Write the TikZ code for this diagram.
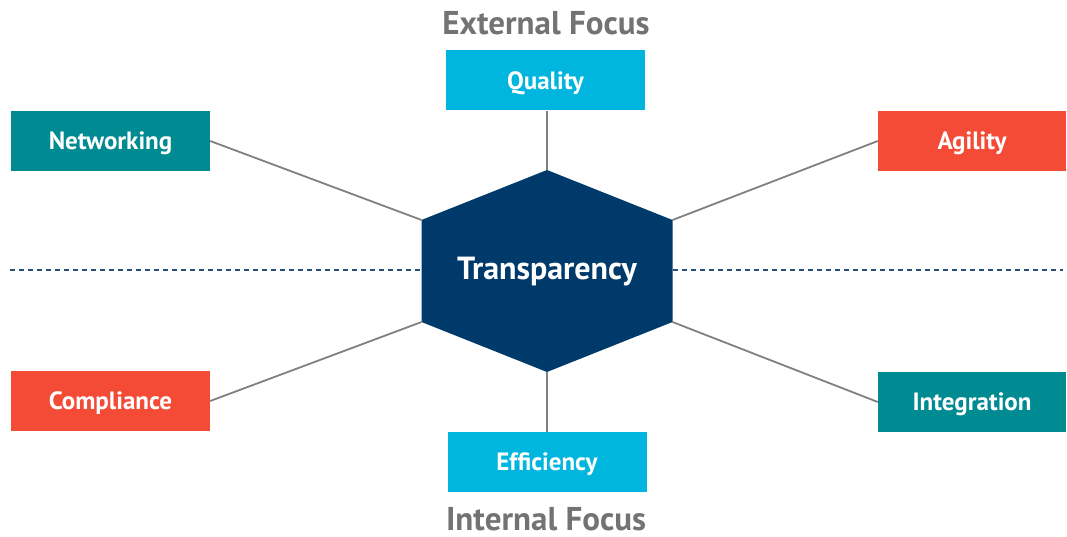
\documentclass[tikz,border=0pt]{standalone}
\usepackage{fontspec}
\setmainfont{PT Sans}
\definecolor{cyanbox}{HTML}{00B5DE}
\definecolor{tealbox}{HTML}{008A91}
\definecolor{redbox}{HTML}{F44B36}
\definecolor{navy}{HTML}{003A6A}
\definecolor{linegray}{HTML}{808080}
\definecolor{textgray}{HTML}{737373}
\definecolor{dashblue}{HTML}{2B4F7C}
\begin{document}
\begin{tikzpicture}[x=1pt,y=-1pt,
  box/.style={text height=18pt,text depth=0.5pt,minimum width=199pt,minimum height=60pt,inner sep=0pt,text=white,font=\bfseries\fontsize{25}{27}\selectfont},
  conn/.style={draw=linegray,line width=1.8pt},
  focus/.style={text height=23.6pt,text depth=0.5pt,inner sep=0pt,text=textgray,font=\bfseries\fontsize{33}{35}\selectfont}]
\useasboundingbox (0,0) rectangle (1067,537);
% dashed divider
\coordinate (dl1) at (10,270);
\coordinate (dl2) at (421,270);
\coordinate (dr1) at (673,270);
\coordinate (dr2) at (1063,270);
\draw[dashblue,line width=1.8pt,dash pattern=on 5pt off 4pt] (dl1) -- (dl2);
\draw[dashblue,line width=1.8pt,dash pattern=on 5pt off 4pt] (dr1) -- (dr2);
% hexagon corners
\coordinate (ht) at (547,170);
\coordinate (hur) at (672.5,220);
\coordinate (hlr) at (672.5,322);
\coordinate (hb) at (547,372);
\coordinate (hll) at (421.5,322);
\coordinate (hul) at (421.5,220);
\fill[navy] (ht) -- (hur) -- (hlr) -- (hb) -- (hll) -- (hul) -- cycle;
\node[text height=22.9pt,text depth=0.5pt,inner sep=0pt,text=white,font=\bfseries\fontsize{32}{34}\selectfont] (center) at (547,268) {Transparency};
% boxes
\node[box,fill=cyanbox] (quality) at (545.5,80.5) {Quality};
\node[box,fill=tealbox] (networking) at (110.5,141) {Networking};
\node[box,fill=redbox,minimum width=188pt] (agility) at (972,141) {Agility};
\node[box,fill=redbox] (compliance) at (110.5,401) {Compliance};
\node[box,fill=tealbox,minimum width=188pt] (integration) at (972,402) {Integration};
\node[box,fill=cyanbox] (efficiency) at (547,462) {Efficiency};
% focus labels
\node[focus] (ext) at (546,22.5) {External Focus};
\node[focus] (int) at (546,519) {Internal Focus};
% connectors
\draw[conn] (quality.south -| ht) -- (ht);
\draw[conn] (networking.east) -- (hul);
\draw[conn] (agility.west) -- (hur);
\draw[conn] (compliance.east) -- (hll);
\draw[conn] (integration.west) -- (hlr);
\draw[conn] (efficiency.north -| hb) -- (hb);
\end{tikzpicture}
\end{document}
